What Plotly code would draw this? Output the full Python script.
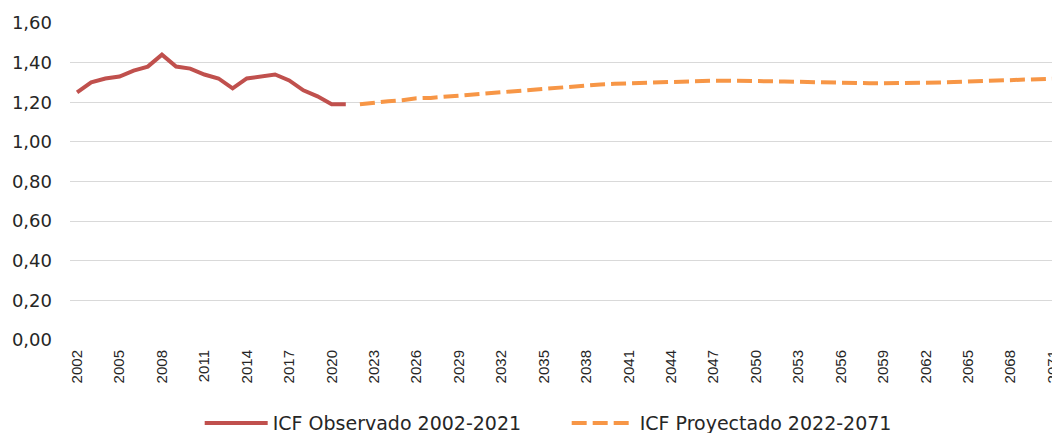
import plotly.graph_objects as go

obs_years = list(range(2002, 2022))
obs_values = [1.25, 1.30, 1.32, 1.33, 1.36, 1.38, 1.44, 1.38, 1.37, 1.34,
              1.32, 1.27, 1.32, 1.33, 1.34, 1.31, 1.26, 1.23, 1.19, 1.19]

proj_years = list(range(2022, 2072))
proj_values = [1.19, 1.20, 1.205, 1.21, 1.22, 1.222, 1.228, 1.233, 1.238, 1.242,
               1.25, 1.255, 1.262, 1.268, 1.274, 1.28, 1.285, 1.29, 1.293, 1.296,
               1.299, 1.302, 1.304, 1.306, 1.308, 1.309, 1.309, 1.309, 1.308, 1.307,
               1.305, 1.303, 1.301, 1.299, 1.298, 1.297, 1.296, 1.296, 1.296, 1.297,
               1.298, 1.300, 1.302, 1.305, 1.306, 1.308, 1.310, 1.313, 1.316, 1.319]

y_ticks = [0, 0.2, 0.4, 0.6, 0.8, 1.0, 1.2, 1.4, 1.6]
x_tick_start, x_tick_step = 2002, 3

obs_name = "ICF Observado 2002-2021"
proj_name = "ICF Proyectado 2022-2071"

fig = go.Figure()
fig.add_trace(go.Scatter(x=obs_years, y=obs_values, mode="lines", name=obs_name,
                         line=dict(color="#C0504D", width=4)))
fig.add_trace(go.Scatter(x=proj_years, y=proj_values, mode="lines", name=proj_name,
                         line=dict(color="#F79646", width=4, dash="15px,6px")))

fig.update_layout(
    width=1052, height=425,
    margin=dict(l=62, r=0, t=15, b=93, autoexpand=False),
    paper_bgcolor="white", plot_bgcolor="white",
    separators=",.",
    showlegend=True,
    legend=dict(orientation="h", x=0.131, xanchor="left", y=-0.262, yanchor="middle",
                font=dict(family="DejaVu Sans", size=19, color="#262626"),
                itemwidth=63, entrywidth=289, entrywidthmode="pixels",
                bgcolor="rgba(0,0,0,0)"),
    xaxis=dict(range=[2001.5, 2071.5], tickmode="linear", tick0=x_tick_start, dtick=x_tick_step,
               tickangle=-90, showgrid=False, zeroline=False, showline=False, ticks="",
               tickfont=dict(family="Liberation Sans", size=15, color="#262626"),
               ticklabelstandoff=6, ticklabeloverflow="allow", automargin=False),
    yaxis=dict(range=[0, 1.6], tickvals=y_ticks, tickformat=".2f",
               showgrid=True, gridcolor="#D9D9D9", gridwidth=1, zeroline=False,
               showline=False, ticks="",
               tickfont=dict(family="DejaVu Sans", size=18, color="#262626"),
               ticklabelstandoff=17, automargin=False),
)

fig.write_html("out.html")
